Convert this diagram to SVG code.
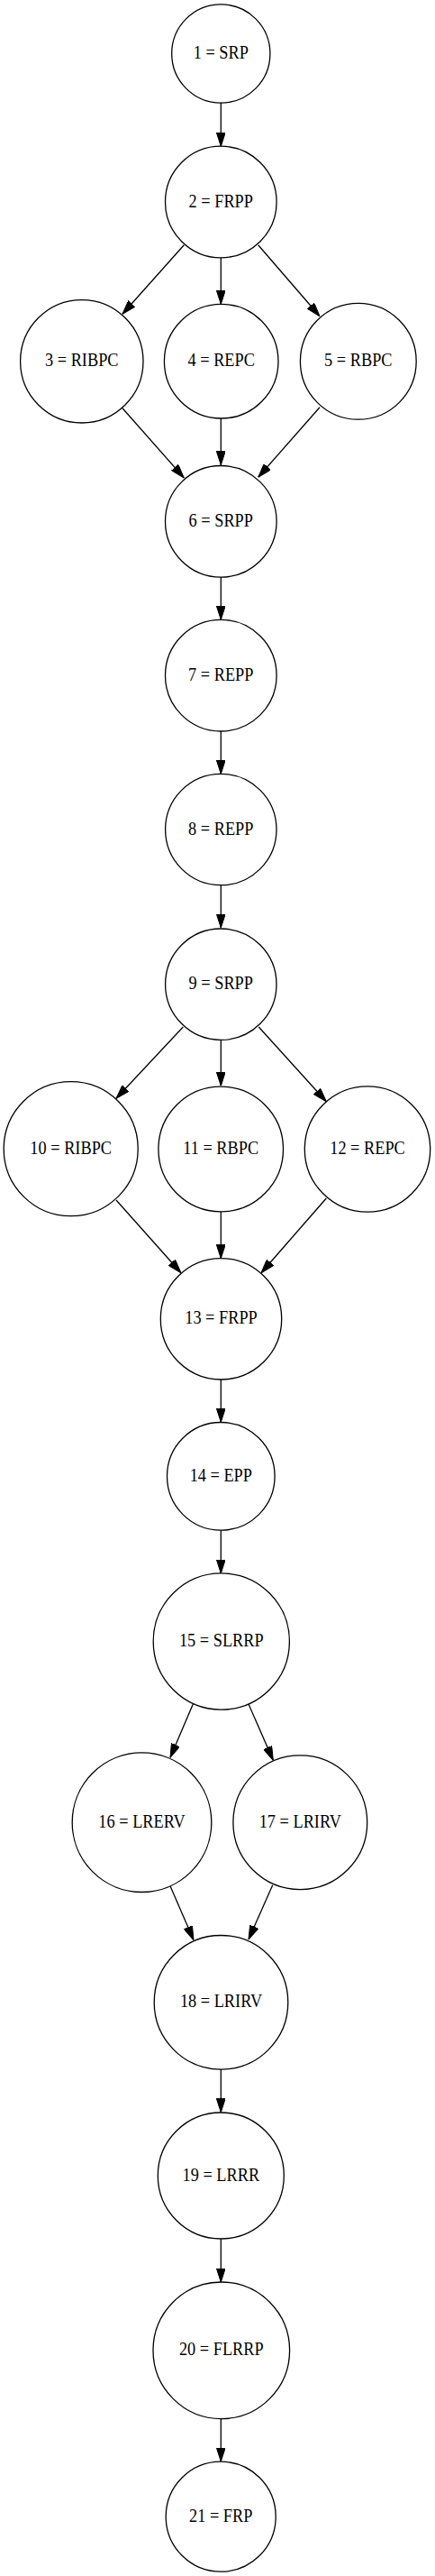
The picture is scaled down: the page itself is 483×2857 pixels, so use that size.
<svg xmlns="http://www.w3.org/2000/svg" width="483" height="2857" viewBox="0 0 483 2857">
<style>
.node circle{fill:none;stroke:#000;stroke-width:1.3}
.node text{font-family:"Liberation Serif","Times New Roman",serif;font-size:18.3px;fill:#000;text-anchor:middle}
.edges line{stroke:#000;stroke-width:1.3;marker-end:url(#arr)}
</style>
<defs>
<marker id="arr" markerUnits="userSpaceOnUse" viewBox="0 0 15.5 10" refX="15.5" refY="5" markerWidth="15.5" markerHeight="10" orient="auto">
<path d="M0,0 L15.5,5 L0,10 z" fill="#000" stroke="#000" stroke-width="1"/>
</marker>
</defs>
<rect width="483" height="2857" fill="#fff"/>
<g class="edges" id="edges">
<line x1="245.3" y1="114" x2="245.3" y2="162.3"/>
<line x1="204.3" y1="271.7" x2="136" y2="348.3"/>
<line x1="245.3" y1="285.7" x2="245.3" y2="337.3"/>
<line x1="286.7" y1="271.7" x2="355" y2="350.7"/>
<line x1="136" y1="452.7" x2="204.3" y2="530"/>
<line x1="245.3" y1="464" x2="245.3" y2="515.7"/>
<line x1="355" y1="451.7" x2="286.7" y2="529.3"/>
<line x1="245.3" y1="640" x2="245.3" y2="687.3"/>
<line x1="245.3" y1="811" x2="245.3" y2="858.3"/>
<line x1="245.3" y1="981.7" x2="245.3" y2="1029"/>
<line x1="203.3" y1="1139" x2="129" y2="1218.3"/>
<line x1="245.3" y1="1153.3" x2="245.3" y2="1204.3"/>
<line x1="287.3" y1="1139" x2="362.3" y2="1221.7"/>
<line x1="129" y1="1331" x2="201" y2="1411.7"/>
<line x1="245.3" y1="1344" x2="245.3" y2="1395.7"/>
<line x1="362.3" y1="1329" x2="290" y2="1411.7"/>
<line x1="245.3" y1="1530" x2="245.3" y2="1577.3"/>
<line x1="245.3" y1="1697.3" x2="245.3" y2="1745"/>
<line x1="214.3" y1="1890" x2="189" y2="1949.3"/>
<line x1="276" y1="1890" x2="303.3" y2="1952.3"/>
<line x1="189" y1="2091.7" x2="215" y2="2151.7"/>
<line x1="302.7" y1="2090.7" x2="276" y2="2151"/>
<line x1="245.3" y1="2295" x2="245.3" y2="2342.7"/>
<line x1="245.3" y1="2483.3" x2="245.3" y2="2531"/>
<line x1="245.3" y1="2682.7" x2="245.3" y2="2730"/>
</g>
<g class="node" id="n1"><circle cx="245.3" cy="59.5" r="54.6"/><text transform="translate(245.3,65) scale(1,1.15)">1 = SRP</text></g>
<g class="node" id="n2"><circle cx="245.3" cy="224" r="61.8"/><text transform="translate(245.3,229.5) scale(1,1.15)">2 = FRPP</text></g>
<g class="node" id="n3"><circle cx="90.8" cy="400.8" r="68.2"/><text transform="translate(90.8,406.3) scale(1,1.15)">3 = RIBPC</text></g>
<g class="node" id="n4"><circle cx="245.7" cy="400.7" r="63.3"/><text transform="translate(245.7,406.3) scale(1,1.15)">4 = REPC</text></g>
<g class="node" id="n5"><circle cx="397.8" cy="400.8" r="64.4"/><text transform="translate(397.8,406.3) scale(1,1.15)">5 = RBPC</text></g>
<g class="node" id="n6"><circle cx="245.3" cy="578.3" r="61.8"/><text transform="translate(245.3,583.8) scale(1,1.15)">6 = SRPP</text></g>
<g class="node" id="n7"><circle cx="245.3" cy="749.2" r="61.8"/><text transform="translate(245.3,754.7) scale(1,1.15)">7 = REPP</text></g>
<g class="node" id="n8"><circle cx="245.3" cy="920" r="61.7"/><text transform="translate(245.3,925.5) scale(1,1.15)">8 = REPP</text></g>
<g class="node" id="n9"><circle cx="245.3" cy="1091.7" r="61.7"/><text transform="translate(245.3,1097.2) scale(1,1.15)">9 = SRPP</text></g>
<g class="node" id="n10"><circle cx="78.7" cy="1274.2" r="74.5"/><text transform="translate(78.7,1279.9) scale(1,1.15)">10 = RIBPC</text></g>
<g class="node" id="n11"><circle cx="245.2" cy="1274.5" r="69.3"/><text transform="translate(245.2,1280) scale(1,1.15)">11 = RBPC</text></g>
<g class="node" id="n12"><circle cx="408" cy="1274.5" r="69.7"/><text transform="translate(408,1280) scale(1,1.15)">12 = REPC</text></g>
<g class="node" id="n13"><circle cx="245.5" cy="1462.8" r="67.2"/><text transform="translate(245.5,1468.3) scale(1,1.15)">13 = FRPP</text></g>
<g class="node" id="n14"><circle cx="245.3" cy="1637.3" r="59.8"/><text transform="translate(245.3,1642.8) scale(1,1.15)">14 = EPP</text></g>
<g class="node" id="n15"><circle cx="245.8" cy="1820.5" r="75.6"/><text transform="translate(245.8,1826) scale(1,1.15)">15 = SLRRP</text></g>
<g class="node" id="n16"><circle cx="157.5" cy="2021.2" r="77.3"/><text transform="translate(157.5,2026.7) scale(1,1.15)">16 = LRERV</text></g>
<g class="node" id="n17"><circle cx="333.3" cy="2021.2" r="74.4"/><text transform="translate(333.3,2026.7) scale(1,1.15)">17 = LRIRV</text></g>
<g class="node" id="n18"><circle cx="245.5" cy="2220.8" r="74.3"/><text transform="translate(245.5,2226.3) scale(1,1.15)">18 = LRIRV</text></g>
<g class="node" id="n19"><circle cx="245.3" cy="2413" r="70"/><text transform="translate(245.3,2418.5) scale(1,1.15)">19 = LRRR</text></g>
<g class="node" id="n20"><circle cx="245.8" cy="2606.8" r="75.8"/><text transform="translate(245.8,2612.3) scale(1,1.15)">20 = FLRRP</text></g>
<g class="node" id="n21"><circle cx="245.2" cy="2791.2" r="61"/><text transform="translate(245.2,2796.7) scale(1,1.15)">21 = FRP</text></g>
</svg>
